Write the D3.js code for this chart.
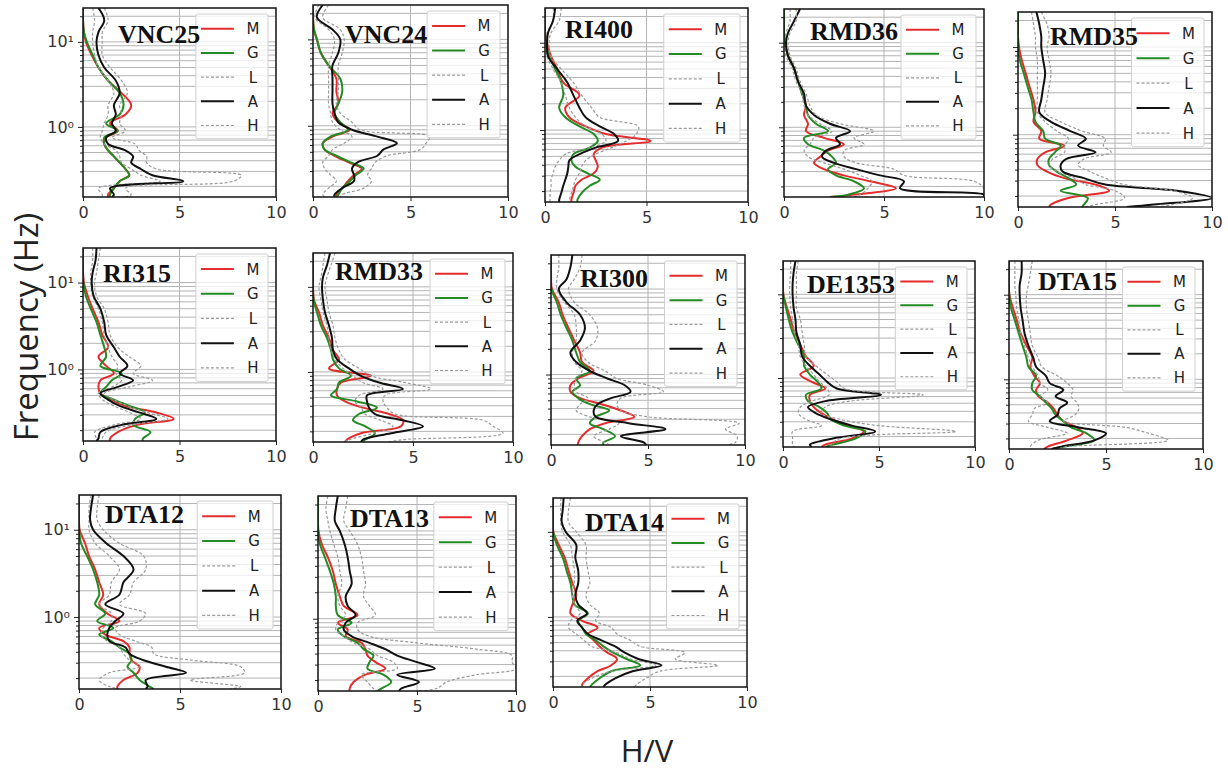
<!DOCTYPE html>
<html>
<head>
<meta charset="utf-8">
<script src="https://cdn.jsdelivr.net/npm/d3@7"></script>
<style>
  body { margin: 0; background: #fff; }
  svg { display: block; }
</style>
</head>
<body>
<svg id="chart" width="1228" height="771"></svg>
<script>
// Frequency samples (Hz), shared by every curve, from high to low
const FREQ = [25, 18, 13, 10, 7, 5, 3.5, 2.5, 1.8, 1.4, 1.1, 0.9, 0.75, 0.63, 0.53, 0.45, 0.38, 0.32, 0.27, 0.23, 0.19, 0.16, 0.15];

const STATIONS = ["VNC25", "VNC24", "RI400", "RMD36", "RMD35",
                  "RI315", "RMD33", "RI300", "DE1353", "DTA15",
                  "DTA12", "DTA13", "DTA14"];

const SERIES = ["M", "G", "L", "A", "H"];

// H/V ratio per station, one value per FREQ entry
const hvM = {
  VNC25:  [0,0,0.05,0.15,0.45,0.8,1.3,2.0,2.5,2.2,1.4,1.8,1.2,1.1,1.3,1.6,1.9,2.2,2.4,1.9,1.6,1.3,1.3],
  VNC24:  [0,0,0.05,0.2,0.4,0.8,1.2,1.2,1.3,1.0,1.3,1.9,1.0,0.5,0.6,1.1,1.8,2.5,2.1,1.8,1.5,1.2,1.2],
  RI400:  [0,0,0,0.1,0.3,0.6,0.9,1.7,1.0,1.2,2.0,3.0,5.2,2.8,2.4,2.5,2.6,2.4,1.8,1.5,1.4,1.3,1.3],
  RMD36:  [0,0,0,0.05,0.2,0.5,0.7,0.9,1.1,1.0,1.2,1.1,2.0,3.0,2.2,1.8,1.5,2.0,3.0,4.3,5.6,3.5,2.3],
  RMD35:  [0,0,0,0.05,0.2,0.4,0.6,0.8,0.9,0.8,1.2,1.1,2.4,1.4,1.0,1.0,1.5,2.4,4.0,4.7,2.6,1.7,1.6],
  RI315:  [0,0,0,0.05,0.25,0.5,0.8,1.0,1.3,0.8,1.2,1.6,0.9,0.8,0.9,1.5,2.2,3.8,4.7,2.8,1.8,1.4,1.4],
  RMD33:  [0,0,0,0,0.05,0.3,0.5,0.8,1.0,1.3,0.8,2.9,1.4,1.2,1.2,1.6,2.5,3.8,4.5,4.4,2.4,1.7,1.6],
  RI300:  [0,0,0,0.05,0.4,0.6,0.9,1.2,1.5,1.6,2.2,1.4,1.0,1.0,1.5,2.6,3.6,4.3,2.8,2.0,1.6,1.4,1.4],
  DE1353: [0,0,0,0.02,0.2,0.4,0.6,0.9,1.2,1.6,0.9,1.5,2.2,1.4,1.4,1.6,2.0,2.6,3.4,4.2,3.6,2.2,2.0],
  DTA15:  [0,0,0,0.02,0.2,0.4,0.6,0.9,1.2,1.1,1.3,1.6,1.4,1.5,2.0,2.3,2.5,2.8,3.5,3.8,3.0,2.0,1.8],
  DTA12:  [0,0,0,0.03,0.3,0.5,0.8,1.0,1.2,1.0,1.4,2.0,1.0,1.3,2.2,2.5,2.5,2.6,3.0,2.9,2.2,1.9,1.9],
  DTA13:  [0,0,0,0.02,0.2,0.5,0.75,0.9,1.1,1.3,2.0,1.0,1.5,1.4,2.2,2.4,2.5,2.9,3.4,2.4,1.8,1.6,1.6],
  DTA14:  [0,0,0,0.02,0.3,0.6,0.8,1.0,1.2,1.0,0.9,1.5,2.3,1.8,2.1,2.4,2.8,3.3,3.0,2.3,1.8,1.5,1.5]
};

const hvG = {
  VNC25:  [0,0,0.05,0.2,0.5,0.8,1.3,1.9,2.1,1.9,1.2,1.8,1.1,1.1,1.3,1.6,1.9,2.2,2.4,1.9,1.6,1.4,1.4],
  VNC24:  [0,0,0.05,0.2,0.4,0.8,1.4,1.5,1.3,1.1,1.4,1.8,0.9,0.5,0.6,1.2,1.9,2.6,2.2,1.9,1.5,1.3,1.2],
  RI400:  [0,0,0,0.05,0.2,0.5,0.8,0.9,0.7,1.0,1.7,2.4,2.6,2.2,1.4,1.3,1.5,2.1,2.7,2.2,1.8,1.6,1.6],
  RMD36:  [0,0,0,0.05,0.2,0.5,0.7,0.9,1.1,1.2,1.6,2.2,1.0,1.2,2.0,2.4,2.6,2.2,2.6,3.5,4.0,3.2,2.3],
  RMD35:  [0,0,0,0.02,0.1,0.3,0.5,0.7,0.8,0.9,1.3,1.4,2.2,1.9,1.6,1.6,2.0,2.6,3.0,2.2,3.6,3.4,3.3],
  RI315:  [0,0,0,0.02,0.15,0.4,0.7,0.9,1.1,1.2,0.9,2.0,1.5,1.2,0.9,1.6,2.4,3.2,2.7,2.6,3.5,3.1,3.1],
  RMD33:  [0,0,0,0,0.03,0.2,0.4,0.7,0.9,1.0,1.3,1.9,1.3,1.2,0.9,2.2,3.2,2.3,2.0,2.6,3.1,2.6,2.4],
  RI300:  [0,0,0,0.02,0.3,0.5,0.8,1.1,1.3,1.5,2.0,1.3,1.5,1.1,1.4,2.0,3.0,2.3,2.0,2.7,3.3,2.7,2.7],
  DE1353: [0,0,0,0.01,0.15,0.3,0.5,0.8,1.1,1.1,1.4,1.8,2.0,1.2,1.3,1.9,2.3,2.5,3.2,4.3,3.8,2.6,2.2],
  DTA15:  [0,0,0,0.01,0.1,0.3,0.5,0.7,0.9,1.0,1.4,1.2,1.2,1.6,1.9,2.2,2.4,2.8,3.2,4.0,4.4,2.8,2.2],
  DTA12:  [0,0,0,0.01,0.1,0.4,0.7,0.9,1.0,0.8,1.3,0.9,1.7,1.0,1.6,2.0,2.5,2.6,2.4,2.7,3.0,3.5,3.7],
  DTA13:  [0,0,0,0.01,0.1,0.35,0.6,0.8,0.9,0.9,1.0,1.7,1.0,1.3,2.0,2.3,2.8,2.6,2.5,3.3,3.7,3.2,3.0],
  DTA14:  [0,0,0,0.01,0.2,0.5,0.7,0.9,1.0,1.1,1.8,1.3,1.5,1.7,2.2,2.6,3.1,3.8,4.5,3.0,2.4,2.0,1.9]
};

const hvL = {
  VNC25:  [0.5,0.6,0.5,0.5,0.6,0.8,1.3,1.6,1.3,1.3,1.1,1.0,0.9,1.1,1.7,1.9,2.0,2.5,3.0,4.0,0.8,1.0,1.0],
  VNC24:  [0.3,0.1,0.8,1.1,1.0,0.8,0.8,0.8,0.8,0.9,1.0,1.4,2.0,1.6,1.0,0.8,0.5,0.6,0.9,1.2,0.8,0.5,0.6],
  RI400:  [0.4,0.4,0.1,0.05,0.1,0.4,0.8,1.0,1.2,1.5,2.0,2.8,3.0,2.2,1.0,0.7,0.5,0.4,0.3,0.3,0.25,0.25,0.25],
  RMD36:  [0.3,0.3,0.1,0.05,0.1,0.4,0.6,0.9,1.0,1.2,1.8,2.4,1.5,1.3,1.0,1.2,2.0,3.0,3.8,4.4,4.2,3.8,3.5],
  RMD35:  [0.7,0.8,0.9,0.9,1.0,1.0,1.0,1.0,1.0,1.4,2.0,2.6,2.4,2.4,1.8,1.6,2.0,2.9,3.5,5.0,5.5,4.0,3.5],
  RI315:  [0.5,0.5,0.4,0.4,0.5,0.8,1.0,1.1,1.3,1.5,1.8,1.7,2.0,1.5,0.8,1.0,1.6,2.4,3.0,1.6,0.6,0.7,0.7],
  RMD33:  [0.6,0.5,0.4,0.3,0.4,0.5,0.7,0.8,0.9,1.1,1.5,2.0,2.5,3.5,2.3,2.1,2.4,2.6,3.4,4.0,3.0,1.8,1.5],
  RI300:  [0.4,0.4,0.3,0.3,0.7,1.2,1.3,1.3,1.1,1.2,1.6,1.3,1.2,1.3,1.9,1.5,1.3,2.0,3.5,3.0,2.2,2.8,3.0],
  DE1353: [0.4,0.4,0.35,0.35,0.4,0.5,0.6,0.8,0.9,1.2,1.6,1.9,2.3,2.4,1.5,0.9,0.8,1.2,2.0,0.5,0.5,0.5,0.6],
  DTA15:  [0.3,0.3,0.3,0.35,0.4,0.5,0.6,0.8,1.0,1.2,1.5,1.6,2.0,1.6,2.0,1.3,1.2,1.0,2.0,3.0,1.5,1.1,1.2],
  DTA12:  [0.6,0.5,0.5,0.5,0.8,1.5,2.0,1.6,1.5,1.0,1.6,1.6,1.2,1.1,1.4,2.0,2.2,2.5,3.0,1.5,1.0,1.5,2.0],
  DTA13:  [0.5,0.4,0.5,0.6,0.8,1.0,1.1,1.2,1.0,1.1,1.4,1.0,0.9,1.3,1.8,2.6,3.0,3.8,4.0,2.2,2.5,2.8,3.0],
  DTA14:  [0.4,0.4,0.4,0.5,0.9,1.0,1.1,1.1,1.0,1.1,1.4,0.9,0.8,1.2,1.6,2.0,3.3,4.0,5.3,3.0,2.0,1.5,1.5]
};

const hvA = {
  VNC25:  [0.8,1.1,0.8,0.7,0.8,1.1,1.7,1.9,1.6,1.7,1.5,1.7,1.2,1.3,2.2,2.6,2.5,3.0,3.6,5.2,1.4,1.6,1.5],
  VNC24:  [0.5,0.2,1.0,1.4,1.3,1.0,1.0,1.0,1.0,1.1,1.3,2.0,3.3,4.3,3.6,3.3,2.3,2.0,2.1,2.1,1.5,1.1,1.1],
  RI400:  [0.5,0.4,0.15,0.1,0.15,0.6,1.1,1.4,1.7,2.0,2.7,3.4,3.6,2.5,1.7,1.2,1.15,1.1,1.0,0.9,0.8,0.7,0.7],
  RMD36:  [0.8,0.5,0.2,0.1,0.2,0.5,0.7,1.0,1.1,1.5,2.3,3.3,2.6,2.8,2.1,1.9,2.5,3.6,4.8,6.0,5.8,10,10],
  RMD35:  [0.95,1.1,1.2,1.2,1.3,1.4,1.3,1.2,1.1,1.7,2.7,3.5,3.1,4.0,2.5,2.2,2.3,3.4,4.5,8.2,10,7.0,5.6],
  RI315:  [0.7,0.65,0.5,0.45,0.55,0.9,1.1,1.2,1.6,1.9,2.3,1.9,2.6,1.8,0.9,1.3,1.9,2.9,3.8,2.0,0.9,0.8,0.7],
  RMD33:  [0.85,0.7,0.5,0.45,0.5,0.6,0.8,0.95,1.0,1.2,1.8,2.4,3.3,4.5,2.7,2.7,2.8,3.1,4.5,5.5,3.9,2.5,2.4],
  RI300:  [1.1,1.0,0.8,0.4,0.8,1.5,1.75,1.5,1.0,1.3,2.0,2.9,3.8,4.1,3.1,2.4,2.2,2.3,4.0,5.9,3.6,4.8,4.9],
  DE1353: [0.65,0.55,0.5,0.5,0.55,0.65,0.7,0.9,1.0,1.4,1.9,2.3,2.8,5.1,2.2,1.3,1.7,2.5,3.6,4.8,2.6,1.4,1.5],
  DTA15:  [0.65,0.65,0.55,0.55,0.6,0.7,0.8,1.0,1.25,1.4,1.9,2.1,2.8,2.4,3.0,2.6,2.5,2.1,3.6,5.0,4.4,2.7,2.2],
  DTA12:  [0.7,0.6,0.55,0.7,1.35,2.2,2.7,2.2,2.0,1.3,2.2,1.8,1.5,1.4,1.5,2.3,2.5,3.2,4.3,5.3,3.3,3.4,3.3],
  DTA13:  [1.0,0.9,0.85,1.1,1.35,1.5,1.6,1.7,1.4,1.5,1.9,1.4,1.3,1.7,2.6,3.4,4.0,5.0,5.9,4.0,5.1,4.2,4.1],
  DTA14:  [0.55,0.5,0.45,0.65,1.2,1.15,1.3,1.3,1.15,1.3,1.75,1.25,1.5,1.8,2.5,3.2,3.7,4.4,5.6,4.1,3.2,2.7,2.6]
};

const hvH = {
  VNC25:  [1.1,1.3,1.0,1.0,1.0,1.4,2.0,2.3,1.9,2.0,1.9,2.2,1.5,2.7,2.9,3.3,3.3,3.8,8.2,7.8,2.2,2.5,2.2],
  VNC24:  [0.8,0.5,1.4,1.6,1.5,1.3,1.3,1.3,1.2,1.4,2.0,2.4,6.0,5.8,5.5,3.8,3.2,3.0,2.8,3.0,2.6,1.5,1.4],
  RI400:  [0.8,0.7,0.3,0.2,0.3,0.8,1.4,1.8,2.3,2.7,4.6,4.5,4.0,3.3,2.5,2.0,1.8,1.7,1.5,1.4,1.3,1.2,1.2],
  RMD36:  [0.6,0.6,0.3,0.2,0.3,0.6,0.8,1.1,1.3,1.6,2.8,4.5,3.5,4.0,3.0,3.0,3.6,5.5,6.0,9.5,10,10,10],
  RMD35:  [1.2,1.5,1.6,1.5,1.6,1.7,1.6,1.5,1.4,2.2,3.3,4.5,4.4,4.8,3.4,3.1,3.7,4.5,5.5,8.0,9.0,8.0,7.0],
  RI315:  [0.9,0.8,0.7,0.6,0.7,1.1,1.3,1.4,1.8,2.4,3.0,2.6,3.6,2.4,1.1,1.6,2.3,3.3,4.4,2.5,1.2,1.0,1.0],
  RMD33:  [1.1,0.9,0.7,0.6,0.7,0.8,1.0,1.1,1.3,1.6,2.3,2.9,4.6,5.9,3.6,3.5,3.7,4.1,8.5,9.0,9.5,4.5,3.8],
  RI300:  [1.6,1.5,1.2,0.9,1.2,2.0,2.4,2.3,1.6,1.9,2.8,3.4,5.0,5.8,3.6,3.4,3.6,5.0,9.7,9.0,9.6,9.5,9.0],
  DE1353: [0.8,0.7,0.7,0.7,0.7,0.9,1.0,1.1,1.2,1.7,2.3,2.8,3.2,7.3,3.5,2.2,2.0,3.0,5.0,9.0,3.0,2.5,2.5],
  DTA15:  [1.2,1.1,1.0,0.9,0.9,1.0,1.1,1.2,1.5,1.7,2.5,3.0,3.3,3.2,3.5,3.6,3.4,2.8,6.0,7.2,8.2,3.0,2.5],
  DTA12:  [1.0,0.9,0.9,1.2,2.0,3.2,3.3,2.7,2.5,2.0,3.3,3.0,1.8,2.0,2.8,3.6,3.7,5.6,8.0,8.2,5.5,8.0,7.5],
  DTA13:  [1.5,1.4,1.3,1.6,2.0,2.2,2.3,2.4,2.3,2.6,2.9,2.0,2.0,2.6,5.0,8.0,9.8,9.8,10,8.0,6.5,6.0,5.0],
  DTA14:  [0.9,0.8,0.8,1.2,1.7,1.7,1.8,1.9,1.7,1.9,2.4,2.2,3.0,3.3,4.0,4.5,6.8,6.3,8.5,5.5,4.8,4.3,4.2]
};

const X_TICKS = [0, 5, 10];
const Y_MAJOR = [1, 10];

// ---- layout (pixel boxes of each panel's plotting area) ----
const panelBox = [
  [83, 8, 276, 197], [313, 5, 508, 197], [545, 8, 748, 202], [784, 9, 984, 197], [1018, 12, 1212, 207],
  [83, 248, 276, 441], [313, 253, 513, 442], [551, 255, 745, 445], [783, 261, 975, 447], [1009, 261, 1203, 449],
  [79, 495, 281, 689], [318, 496, 516, 691], [553, 498, 747, 687]
];
const titleOffset = [
  [35, 35], [32, 38], [20, 30], [26, 31], [32, 33],
  [20, 34], [22, 27], [29, 32], [24, 32], [29, 29],
  [26, 28], [32, 31], [32, 33]
];
const firstColumn = new Set([0, 5, 10]);

const style = {
  M: { color: "#e52b2b", width: 2, dash: null },
  G: { color: "#238b23", width: 2, dash: null },
  L: { color: "#9a9a9a", width: 1.2, dash: "3,2" },
  A: { color: "#111111", width: 2, dash: null },
  H: { color: "#9a9a9a", width: 1.2, dash: "3,2" }
};
const seriesData = { M: hvM, G: hvG, L: hvL, A: hvA, H: hvH };

const svg = d3.select("#chart");
const tickFont = "'DejaVu Sans', sans-serif";

// minor + major log grid positions inside the frequency domain
const gridFreqs = [];
[-1, 0, 1].forEach(e => {
  for (let k = 1; k <= 9; k++) {
    const v = +(k * Math.pow(10, e)).toPrecision(3);
    if (v >= 0.15 && v <= 25) gridFreqs.push(v);
  }
});
const minorFreqs = gridFreqs.filter(v => !Y_MAJOR.includes(v));

STATIONS.forEach((st, i) => {
  const [x0, y0, x1, y1] = panelBox[i];
  const w = x1 - x0, h = y1 - y0;
  const x = d3.scaleLinear().domain([0, 10]).range([0, w]);
  const y = d3.scaleLog().domain([0.15, 25]).range([h, 0]);

  const g = svg.append("g").attr("transform", `translate(${x0},${y0})`);

  // grid
  g.append("g").selectAll("line").data(gridFreqs).join("line")
    .attr("x1", 0).attr("x2", w)
    .attr("y1", d => y(d)).attr("y2", d => y(d))
    .attr("stroke", "#b4b4b4").attr("stroke-width", 1);
  g.append("line")
    .attr("x1", x(5)).attr("x2", x(5)).attr("y1", 0).attr("y2", h)
    .attr("stroke", "#b4b4b4").attr("stroke-width", 1);

  // curves
  const clipId = "clip" + i;
  g.append("clipPath").attr("id", clipId)
    .append("rect").attr("x", 0).attr("y", 0).attr("width", w).attr("height", h);

  const line = d3.line()
    .x(d => x(d[1]))
    .y(d => y(d[0]))
    .curve(d3.curveCatmullRom.alpha(0.5));

  const curves = g.append("g").attr("clip-path", `url(#${clipId})`);
  SERIES.forEach(s => {
    const vals = seriesData[s][st];
    const pts = FREQ.map((f, k) => [f, vals[k]]);
    curves.append("path")
      .datum(pts)
      .attr("d", line)
      .attr("fill", "none")
      .attr("stroke", style[s].color)
      .attr("stroke-width", style[s].width)
      .attr("stroke-dasharray", style[s].dash)
      .attr("stroke-linejoin", "round");
  });

  // legend
  const lx = 0.585 * w, lw = w - 8 - lx, ly = 6, lh = 0.66 * h;
  const leg = g.append("g");
  leg.append("rect")
    .attr("x", lx).attr("y", ly).attr("width", lw).attr("height", lh)
    .attr("rx", 2)
    .attr("fill", "#fff").attr("fill-opacity", 0.78)
    .attr("stroke", "#cfcfcf").attr("stroke-width", 1);
  SERIES.forEach((s, k) => {
    const ry = ly + 0.078 * h + k * 0.128 * h;
    leg.append("line")
      .attr("x1", lx + 5).attr("x2", lx + 38)
      .attr("y1", ry).attr("y2", ry)
      .attr("stroke", style[s].color)
      .attr("stroke-width", style[s].width)
      .attr("stroke-dasharray", style[s].dash);
    leg.append("text")
      .attr("x", lx + 57).attr("y", ry + 5.5)
      .attr("text-anchor", "middle")
      .attr("font-family", tickFont).attr("font-size", 15)
      .attr("fill", "#222")
      .text(s);
  });

  // station name
  g.append("text")
    .attr("x", titleOffset[i][0]).attr("y", titleOffset[i][1])
    .attr("font-family", "'Liberation Serif', 'Times New Roman', serif")
    .attr("font-weight", "bold").attr("font-size", 26)
    .attr("fill", "#111")
    .text(st);

  // axes
  const xAxis = d3.axisBottom(x).tickValues(X_TICKS).tickSize(4).tickPadding(6)
    .tickFormat(d3.format("d"));
  const gx = g.append("g").attr("transform", `translate(0,${h})`).call(xAxis);
  gx.select(".domain").remove();
  gx.selectAll("line").attr("stroke", "#222");
  gx.selectAll("text").attr("font-family", tickFont).attr("font-size", 16).attr("fill", "#333");

  const yMajor = d3.axisLeft(y).tickValues(Y_MAJOR).tickSize(5).tickPadding(4)
    .tickFormat(d => firstColumn.has(i) ? (d === 1 ? "10\u2070" : "10\u00B9") : "");
  const gy = g.append("g").call(yMajor);
  gy.select(".domain").remove();
  gy.selectAll("line").attr("stroke", "#222");
  gy.selectAll("text").attr("font-family", tickFont).attr("font-size", 16).attr("fill", "#333");

  const yMinor = d3.axisLeft(y).tickValues(minorFreqs).tickSize(3).tickFormat("");
  const gy2 = g.append("g").call(yMinor);
  gy2.select(".domain").remove();
  gy2.selectAll("line").attr("stroke", "#222");

  // frame
  g.append("rect")
    .attr("x", 0).attr("y", 0).attr("width", w).attr("height", h)
    .attr("fill", "none").attr("stroke", "#111").attr("stroke-width", 1.5);
});

// shared axis titles
svg.append("text")
  .attr("transform", "translate(38,327) rotate(-90)")
  .attr("text-anchor", "middle")
  .attr("font-family", "'Open Sans', sans-serif")
  .attr("font-size", 33)
  .attr("fill", "#222")
  .text("Frequency (Hz)");

svg.append("text")
  .attr("x", 647).attr("y", 762)
  .attr("text-anchor", "middle")
  .attr("font-family", "'Open Sans', sans-serif")
  .attr("font-size", 31)
  .attr("fill", "#222")
  .text("H/V");
</script>
</body>
</html>
